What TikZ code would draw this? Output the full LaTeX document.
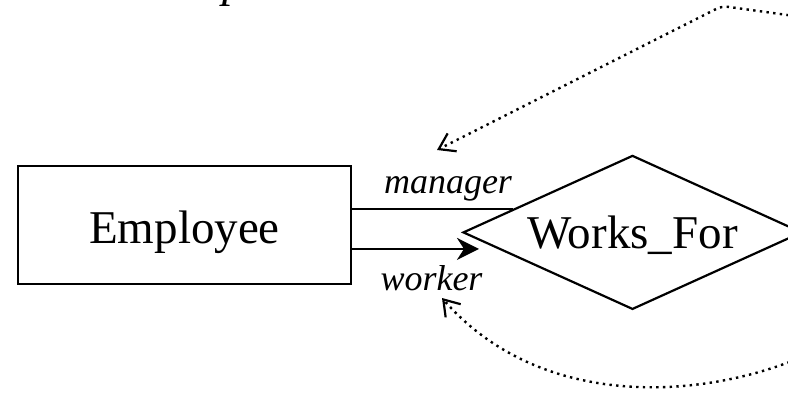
\documentclass[tikz,border=0pt]{standalone}
\usepackage{fontspec}
\setmainfont{Liberation Serif}
\usetikzlibrary{shapes.geometric,arrows.meta}

\tikzset{
  entity/.style={draw, line width=1.8pt, rectangle, inner sep=0pt,
    minimum width=333pt, minimum height=118pt,
    font=\fontsize{47}{56}\selectfont, text height=36pt, text depth=0pt},
  relship/.style={draw, line width=2.2pt, diamond, inner sep=0pt, aspect=2.2,
    minimum width=339pt, minimum height=154pt,
    font=\fontsize{47}{56}\selectfont, text height=31.2pt, text depth=0pt},
  rolelabel/.style={anchor=base, inner sep=0pt, font=\itshape\fontsize{36}{43}\selectfont},
  plainlink/.style={line width=1.9pt},
  arrowlink/.style={line width=2.6pt, -{Stealth[length=22pt,width=22pt,inset=7pt]}},
  rolelink/.style={line width=2.4pt, dash pattern=on 2.4pt off 4.3pt,
    -{Straight Barb[length=15pt,width=20pt,line width=2.2pt]}}
}

\begin{document}
\begin{tikzpicture}[x=1pt,y=-1pt]
  \useasboundingbox (0,0) rectangle (788,394);
  \clip (0,0) rectangle (788,394);

  % descender of the heading above
  \node[anchor=base, inner sep=0pt, font=\itshape\fontsize{47}{56}\selectfont] (head) at (234,-4) {p};

  % entity and relationship
  \node[entity] (emp) at (184.5,225) {Employee};
  \node[relship] (wf) at (632.5,232.4) {Works\_For};

  % role connectors
  \draw[plainlink] (emp.east |- wf.169.9) -- (wf.169.9);
  \draw[arrowlink, shorten >=19pt] (emp.east |- wf.187.67) -- (wf.187.67);

  % role labels
  \node[rolelabel] (mgr) at (448,193) {manager};
  \node[rolelabel] (wkr) at (431.5,290) {worker};

  % dotted role arrows coming round from the right
  \coordinate (topfar) at (802,17);
  \coordinate (toppeak) at (722,6);
  \coordinate (mgrend) at (437,150);
  \coordinate (botfar) at (802,357);
  \coordinate (wkrend) at (442,298);
  \draw[rolelink, rounded corners=6pt] (topfar) -- (toppeak) -- (mgrend);
  \draw[rolelink] (botfar) .. controls (700,400) and (540,410) .. (wkrend);
\end{tikzpicture}
\end{document}
